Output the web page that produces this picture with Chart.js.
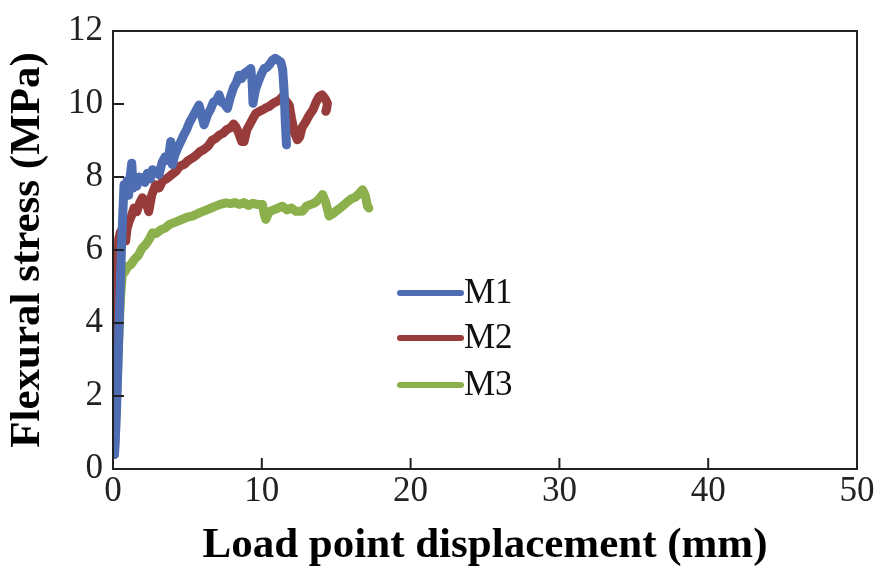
<!DOCTYPE html>
<html>
<head>
<meta charset="utf-8">
<script src="https://cdn.jsdelivr.net/npm/chart.js@4/dist/chart.umd.min.js"></script>
<style>
html,body{margin:0;padding:0;background:#fff;}
#wrap{width:882px;height:575px;}
</style>
</head>
<body>
<div id="wrap"><canvas id="c" width="882" height="575"></canvas></div>
<script>
// ---- data ----
const xTicks = [0, 10, 20, 30, 40, 50];
const yTicks = [0, 2, 4, 6, 8, 10, 12];

const m1X = [0.1,0.2,0.3,0.4,0.5,0.6,0.68,0.74,0.85,0.95,1.05,1.15,1.26,1.35,1.45,1.6,1.75,1.97,2.15,2.3,2.5,2.65,2.85,3.09,3.3,3.5,3.7,3.88,3.99,4.15,4.35,4.55,4.75,4.95,5.15,5.35,5.55,5.78,5.95,6.12,6.35,6.55,6.75,6.95,7.13,7.3,7.5,7.69,7.9,8.1,8.3,8.47,8.65,8.85,9.05,9.26,9.35,9.41,9.55,9.75,9.95,10.15,10.35,10.55,10.71,10.9,11.1,11.28,11.4,11.5,11.58,11.66];
const m1Y = [0.4,1.2,2.4,3.8,5.2,6.4,7.2,7.79,7.6,7.9,7.5,8.0,8.38,7.7,7.88,7.75,8.0,7.97,7.85,8.1,7.95,8.2,8.15,8.06,8.4,8.55,8.45,8.97,8.34,8.6,8.8,8.97,9.15,9.3,9.5,9.65,9.8,9.97,9.7,9.43,9.7,9.85,10.05,10.1,10.25,10.05,10.0,9.88,10.2,10.45,10.6,10.79,10.7,10.85,10.9,10.97,10.6,10.02,10.35,10.6,10.8,10.97,11.0,11.1,11.2,11.25,11.2,11.15,10.95,10.34,9.5,8.88];

const m2X = [0.1,0.2,0.3,0.38,0.5,0.62,0.74,0.85,0.95,1.1,1.25,1.41,1.6,1.8,1.97,2.2,2.4,2.6,2.87,3.1,3.35,3.6,3.9,4.22,4.5,4.8,5.05,5.33,5.6,5.85,6.1,6.4,6.65,6.9,7.15,7.4,7.65,7.9,8.1,8.25,8.45,8.65,8.81,9.0,9.2,9.4,9.6,9.85,10.1,10.3,10.49,10.7,10.9,11.15,11.39,11.6,11.84,12.0,12.2,12.4,12.55,12.7,12.96,13.2,13.45,13.65,13.85,14.05,14.25,14.41,14.35,14.3];
const m2Y = [0.4,2.0,4.2,6.3,6.5,6.3,6.5,6.25,6.6,6.8,6.95,7.15,7.05,7.3,7.43,7.35,7.05,7.5,7.79,7.7,7.9,7.95,8.05,8.15,8.3,8.35,8.45,8.52,8.6,8.7,8.75,8.85,9.0,9.06,9.15,9.2,9.3,9.35,9.45,9.38,9.2,8.97,8.97,9.3,9.45,9.6,9.74,9.8,9.85,9.9,9.93,10.0,10.05,10.1,10.2,10.1,9.97,9.6,9.2,9.02,9.1,9.35,9.52,9.7,9.85,10.05,10.2,10.25,10.15,10.02,9.85,9.8];

const m3X = [0.1,0.2,0.3,0.4,0.5,0.63,0.8,1.0,1.2,1.45,1.7,1.95,2.2,2.45,2.65,2.9,3.2,3.5,3.8,4.1,4.4,4.7,5.0,5.33,5.7,6.0,6.3,6.6,6.9,7.2,7.58,7.9,8.2,8.5,8.8,9.1,9.4,9.7,10.04,10.15,10.27,10.5,10.8,11.1,11.39,11.7,12.0,12.3,12.73,13.0,13.3,13.6,13.85,14.08,14.3,14.53,14.8,15.1,15.42,15.7,16.0,16.3,16.55,16.77,16.95,17.1,17.2];
const m3Y = [0.6,1.5,2.6,3.7,4.7,5.34,5.4,5.55,5.6,5.75,5.85,6.05,6.15,6.3,6.47,6.45,6.55,6.6,6.7,6.75,6.8,6.85,6.9,6.93,7.0,7.05,7.1,7.15,7.2,7.25,7.29,7.27,7.3,7.25,7.3,7.22,7.28,7.25,7.25,7.0,6.84,7.05,7.1,7.15,7.2,7.1,7.15,7.06,7.06,7.2,7.25,7.3,7.4,7.52,7.3,6.93,7.0,7.1,7.2,7.3,7.4,7.45,7.55,7.65,7.5,7.2,7.15];

const seriesLabels = ['M1', 'M2', 'M3'];
const seriesColors = ['#4E6DB3', '#973C3A', '#8CB04B'];

function pts(xs, ys) { return xs.map((x, i) => ({x: x, y: ys[i]})); }

const serif = "'Liberation Serif', 'DejaVu Serif', serif";
const axisColor = '#222';

const boxAndTicks = {
  id: 'boxAndTicks',
  afterDatasetsDraw(chart) {
    const ctx = chart.ctx, a = chart.chartArea;
    const xs = chart.scales.x, ys = chart.scales.y;
    ctx.save();
    ctx.strokeStyle = axisColor;
    ctx.lineWidth = 2;
    ctx.strokeRect(a.left, a.top, a.right - a.left, a.bottom - a.top);
    ctx.beginPath();
    xTicks.forEach(v => {
      const px = xs.getPixelForValue(v);
      ctx.moveTo(px, a.bottom); ctx.lineTo(px, a.bottom - 11);
    });
    yTicks.forEach(v => {
      const py = ys.getPixelForValue(v);
      ctx.moveTo(a.left, py); ctx.lineTo(a.left + 11, py);
    });
    ctx.stroke();
    ctx.restore();
  }
};

const innerLegend = {
  id: 'innerLegend',
  afterDatasetsDraw(chart) {
    const ctx = chart.ctx;
    const rows = [293, 338, 385];
    ctx.save();
    chart.data.datasets.forEach((ds, i) => {
      const y = rows[i];
      ctx.strokeStyle = ds.borderColor;
      ctx.lineWidth = 6;
      ctx.lineCap = 'round';
      ctx.beginPath();
      ctx.moveTo(400, y); ctx.lineTo(461, y);
      ctx.stroke();
      ctx.fillStyle = '#111';
      ctx.font = '35px ' + serif;
      ctx.textBaseline = 'middle';
      ctx.textAlign = 'left';
      ctx.fillText(ds.label, 464, y + 1);
    });
    ctx.restore();
  }
};

new Chart(document.getElementById('c'), {
  type: 'scatter',
  data: {
    datasets: [
      {label: seriesLabels[0], data: pts(m1X, m1Y), borderColor: seriesColors[0]},
      {label: seriesLabels[1], data: pts(m2X, m2Y), borderColor: seriesColors[1]},
      {label: seriesLabels[2], data: pts(m3X, m3Y), borderColor: seriesColors[2]}
    ].map(d => Object.assign(d, {showLine: true, borderWidth: 9, pointRadius: 0, tension: 0, borderJoinStyle: 'round', borderCapStyle: 'round', backgroundColor: d.borderColor}))
  },
  options: {
    responsive: false,
    animation: false,
    layout: {padding: {top: 29, right: 25, left: 0, bottom: 0}},
    plugins: {legend: {display: false}, tooltip: {enabled: false}},
    scales: {
      x: {
        type: 'linear', min: 0, max: 50,
        afterBuildTicks: s => { s.ticks = xTicks.map(v => ({value: v})); },
        afterFit: s => { s.height = 575 - 469; },
        grid: {display: false, drawTicks: false},
        border: {display: false},
        ticks: {font: {family: serif, size: 35}, color: axisColor, padding: 2, maxRotation: 0},
        title: {display: true, text: 'Load point displacement (mm)', font: {family: serif, size: 43, weight: 'bold'}, color: '#000', padding: {top: 0, bottom: 3}}
      },
      y: {
        type: 'linear', min: 0, max: 12,
        afterBuildTicks: s => { s.ticks = yTicks.map(v => ({value: v})); },
        afterFit: s => { s.width = 113; },
        grid: {display: false, drawTicks: false},
        border: {display: false},
        ticks: {font: {family: serif, size: 35}, color: axisColor, padding: 10},
        title: {display: true, text: 'Flexural stress (MPa)', font: {family: serif, size: 43, weight: 'bold'}, color: '#000', padding: {top: 2, bottom: 0}}
      }
    }
  },
  plugins: [boxAndTicks, innerLegend]
});
</script>
</body>
</html>
